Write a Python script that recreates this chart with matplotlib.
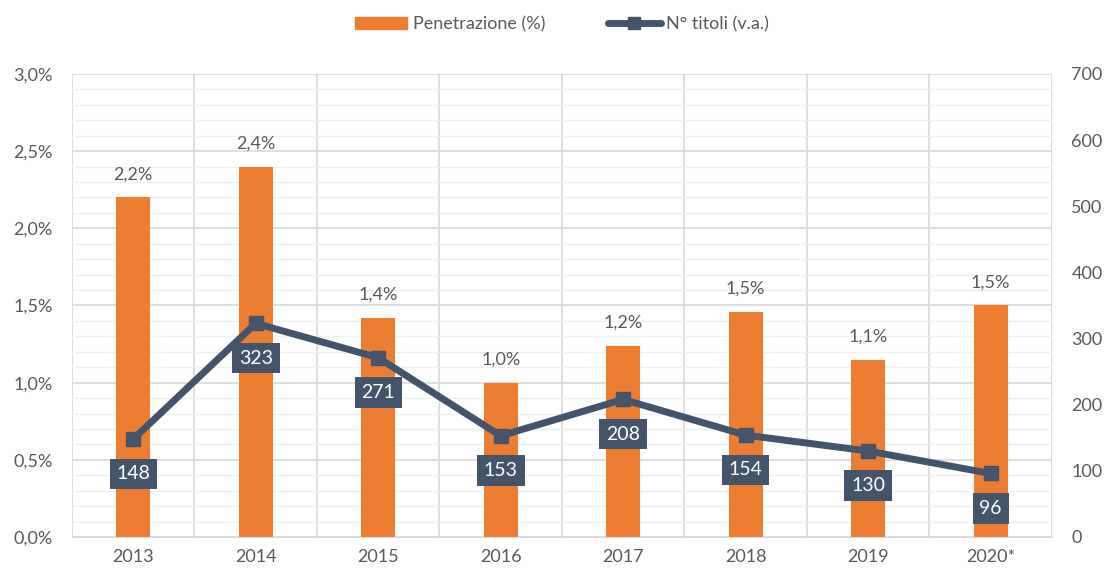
import matplotlib.pyplot as plt
from matplotlib.ticker import MultipleLocator, FuncFormatter
from matplotlib.lines import Line2D
from matplotlib.patches import Patch

years = ["2013", "2014", "2015", "2016", "2017", "2018", "2019", "2020*"]
penetrazione = [2.2, 2.4, 1.42, 1.0, 1.24, 1.46, 1.15, 1.5]
penetrazione_labels = ["2,2%", "2,4%", "1,4%", "1,0%", "1,2%", "1,5%", "1,1%", "1,5%"]
titoli = [148, 323, 271, 153, 208, 154, 130, 96]

orange = "#ED7D31"
navy = "#44546A"
text_col = "#595959"

plt.rcParams['font.family'] = ['Lato', 'DejaVu Sans']

fig = plt.figure(figsize=(11.06, 5.70), dpi=100)
ax = fig.add_axes([0.0651, 0.0579, 0.8860, 0.8123])
ax2 = ax.twinx()

x = list(range(len(years)))
ax.bar(x, penetrazione, width=0.28, color=orange, zorder=2)
for xi, v, lab in zip(x, penetrazione, penetrazione_labels):
    ax.annotate(lab, (xi, v), xytext=(0, 11), textcoords="offset points",
                ha="center", va="bottom", fontsize=13, color=text_col)

ax.set_xlim(-0.5, len(years) - 0.5)
ax.set_ylim(0, 3.0)
ax.yaxis.set_major_locator(MultipleLocator(0.5))
ax.yaxis.set_minor_locator(MultipleLocator(0.1))
ax.yaxis.set_major_formatter(FuncFormatter(lambda v, p: f"{v:.1f}%".replace(".", ",")))
ax.grid(axis="y", which="major", color="#D9D9D9", linewidth=1.2, zorder=0)
ax.grid(axis="y", which="minor", color="#F0F0F0", linewidth=1.0, zorder=0)
ax.set_xticks(x)
ax.set_xticklabels(years)
ax.set_xticks([i + 0.5 for i in range(-1, len(years))], minor=True)
ax.grid(axis="x", which="minor", color="#D9D9D9", linewidth=1.2, zorder=0)
ax.tick_params(axis="x", which="both", length=0, pad=9, labelsize=13, labelcolor=text_col)
ax.tick_params(axis="y", which="both", length=0, pad=14, labelsize=13, labelcolor=text_col)
ax.set_axisbelow(True)

for sp in ["top", "right", "left"]:
    ax.spines[sp].set_visible(False)
    ax2.spines[sp].set_visible(False)
ax.spines["bottom"].set_color("#D9D9D9")
ax2.spines["bottom"].set_visible(False)

ax2.plot(x, titoli, color=navy, linewidth=5, marker="s", markersize=10,
         solid_capstyle="round", zorder=3)
ax2.set_ylim(0, 700)
ax2.yaxis.set_major_locator(MultipleLocator(100))
ax2.tick_params(axis="y", length=0, pad=14, labelsize=13, labelcolor=text_col)
for xi, v in zip(x, titoli):
    ax2.annotate(str(v), (xi, v), xytext=(0, -25), textcoords="offset points",
                 ha="center", va="center", fontsize=14, color="white",
                 bbox=dict(boxstyle="square,pad=0.35", fc=navy, ec="none"), zorder=4)

handles = [Patch(color=orange, label="Penetrazione (%)"),
           Line2D([], [], color=navy, linewidth=5, marker="s", markersize=9,
                  solid_capstyle="round", label="N° titoli (v.a.)")]
fig.legend(handles=handles, loc="upper center", bbox_to_anchor=(0.508, 1.0), ncol=2,
           frameon=False, fontsize=13, labelcolor=text_col, handlelength=2.9,
           columnspacing=3.5, handletextpad=0.3)

fig.savefig("out.png", dpi=100)
